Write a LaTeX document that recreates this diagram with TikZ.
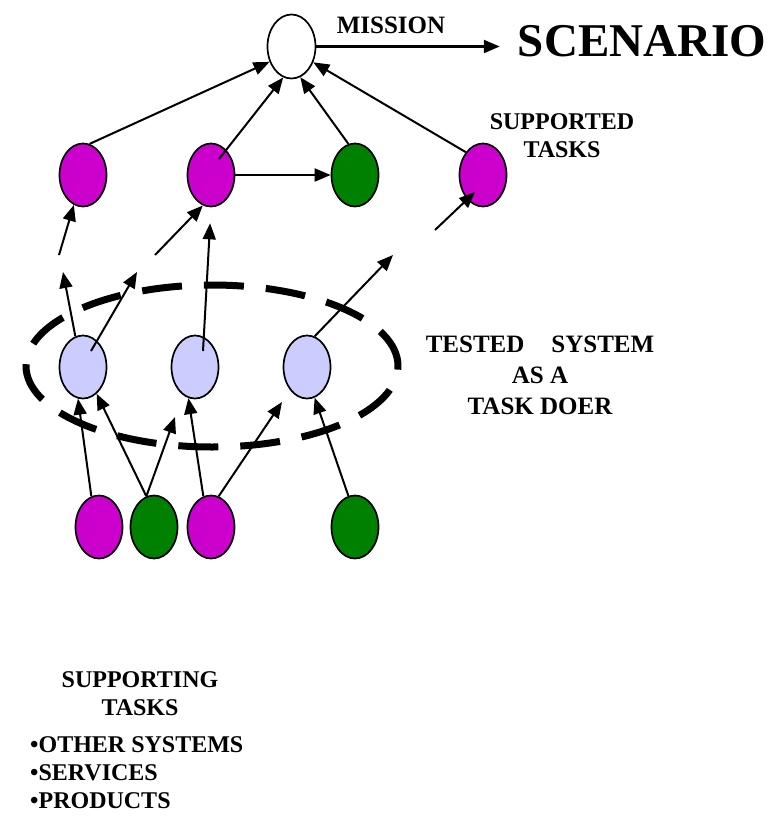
\documentclass[tikz,border=0pt]{standalone}
\usepackage{fontspec}
\setmainfont{Liberation Serif}
\usetikzlibrary{shapes.geometric,arrows.meta,calc}
\definecolor{taskmag}{RGB}{204,0,204}
\definecolor{taskgreen}{RGB}{0,128,0}
\definecolor{doerblue}{RGB}{204,204,255}
\tikzset{
  task/.style={draw, ellipse, line width=1.7pt, minimum width=47pt, minimum height=63pt, inner sep=0pt},
  arr/.style={line width=2pt, -{Triangle[length=16pt,width=13pt]}},
  lbl/.style={font=\fontsize{24}{28}\selectfont\bfseries, align=center, inner sep=0pt},
}
\begin{document}
\begin{tikzpicture}[x=1pt,y=-1pt]
  \useasboundingbox (0,0) rectangle (782,817);
  % the tested system ring
  \draw[line width=7pt, dash pattern=on 40pt off 22pt] (212,366) ellipse [x radius=186pt, y radius=81pt];

  \node[task, fill=white, minimum width=48pt, minimum height=64pt] (m) at (291.5,46.5) {};
  \node[task, fill=taskmag] (s1) at (83,175) {};
  \node[task, fill=taskmag] (s2) at (211,175) {};
  \node[task, fill=taskgreen] (s3) at (355,175) {};
  \node[task, fill=taskmag] (s4) at (483,175) {};
  \node[task, fill=doerblue] (t1) at (83,367) {};
  \node[task, fill=doerblue] (t2) at (195,367) {};
  \node[task, fill=doerblue] (t3) at (307,367) {};
  \node[task, fill=taskmag] (b1) at (99,527) {};
  \node[task, fill=taskgreen] (b2) at (154,527) {};
  \node[task, fill=taskmag] (b3) at (211,527) {};
  \node[task, fill=taskgreen] (b4) at (355,527) {};

  \node[lbl, font=\fontsize{25}{30}\selectfont\bfseries] (mlbl) at (391,25) {MISSION};
  \node[lbl, font=\fontsize{47}{50}\selectfont\bfseries] (scen) at (642,41) {SCENARIO};
  \node[lbl] (supd) at (562,136) {SUPPORTED\\TASKS};
  \node[lbl, font=\fontsize{25}{31}\selectfont\bfseries] (doer) at (540,375) {TESTED\hspace{27pt}SYSTEM\\AS A\\TASK DOER};
  \node[lbl] (supg) at (140,694) {SUPPORTING\\TASKS};
  \node[lbl, align=left, anchor=west] (list) at (30,773) {•OTHER SYSTEMS\\•SERVICES\\•PRODUCTS};

  % broken ends of the chains
  \coordinate (g1) at (63,272);
  \coordinate (g2) at (59,255);
  \coordinate (g3) at (137,272);
  \coordinate (g4) at (155,255);
  \coordinate (g5) at (393,255);
  \coordinate (g6) at (435,230);
  \coordinate (g7) at (175,417);
  \coordinate (g8) at (282,402);

  \draw[arr, line width=2.3pt, shorten >=18pt] (m.east) -- (m.east -| scen.west);
  \draw[arr] (s1.78) -- (m.215);
  \draw[arr] ($(s2)+(8,-16)$) -- (m.255);
  \draw[arr] (s3.102) -- (m.286);
  \draw[arr] (s4.127) -- (m.324);
  \draw[arr] (s2) -- (s3);

  \draw[arr] (t1.104) -- (g1);
  \draw[arr] (g2) -- (s1.253);
  \draw[arr] ($(t1)+(8,-16)$) -- (g3);
  \draw[arr] (g4) -- (s2.255);
  \draw[arr, shorten >=16pt] ($(t2)+(8,-16)$) -- (s2.south);
  \draw[arr] (t3.76) -- (g5);
  \draw[arr] (g6) -- ($(s4)+(-8,17)$);

  \draw[arr] (b1.104) -- (t1.261);
  \draw[arr] (b2.104) -- (t1.297);
  \draw[arr] (b2.104) -- (g7);
  \draw[arr] (b3.104) -- (t2.258);
  \draw[arr] (b3.76) -- (g8);
  \draw[arr] (b4.102) -- (t3.284);
\end{tikzpicture}
\end{document}
